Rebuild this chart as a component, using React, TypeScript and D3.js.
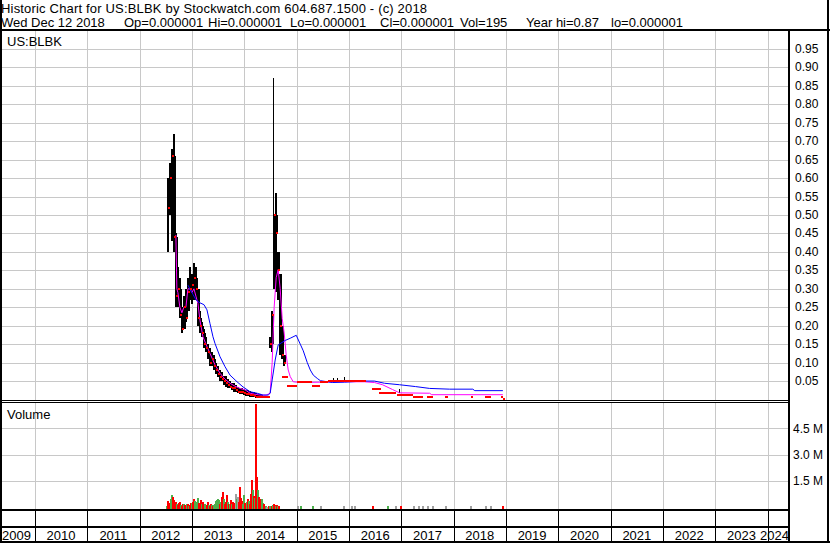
import React from 'react';
import * as d3 from 'd3';

// ---------- DATA ----------
// All time positions are counted in weeks from Monday 2 July 2012.
const WEEK0 = new Date(2012, 6, 2);
const WEEK_MS = 7 * 86400000;

// Two-weekly price bars (high / low / close), first bar in week 1
const barFirstWeek = 1;
const barStepWeeks = 2;
const barHigh = [
  0.60, 0.64, 0.68, 0.72, 0.45, 0.36, 0.33, 0.25, 0.28, 0.30,
  0.33, 0.36, 0.34, 0.37, 0.36, 0.30, 0.24, 0.21, 0.19, 0.17,
  0.15, 0.14, 0.13, 0.12, 0.10, 0.09, 0.08, 0.075, 0.065, 0.065,
  0.055, 0.05, 0.045, 0.045, 0.04, 0.035, 0.032, 0.03, 0.028, 0.025,
  0.025, 0.022, 0.02, 0.02, 0.018, 0.015, 0.014, 0.012, 0.01, 0.01,
  0.01, 0.17, 0.24, 0.87, 0.56, 0.40, 0.34, 0.20, 0.12,
];
const barLow = [
  0.40, 0.50, 0.43, 0.40, 0.25, 0.25, 0.22, 0.18, 0.19, 0.21,
  0.24, 0.27, 0.26, 0.27, 0.27, 0.20, 0.18, 0.17, 0.14, 0.13,
  0.11, 0.09, 0.09, 0.08, 0.07, 0.06, 0.05, 0.05, 0.04, 0.035,
  0.03, 0.03, 0.025, 0.02, 0.02, 0.018, 0.015, 0.015, 0.012, 0.01,
  0.01, 0.008, 0.008, 0.006, 0.005, 0.005, 0.005, 0.005, 0.005, 0.005,
  0.005, 0.14, 0.13, 0.30, 0.29, 0.27, 0.12, 0.11, 0.09,
];
const barClose = [
  0.52, 0.60, 0.66, 0.44, 0.28, 0.30, 0.23, 0.19, 0.25, 0.22,
  0.29, 0.30, 0.31, 0.33, 0.30, 0.22, 0.20, 0.18, 0.15, 0.14,
  0.13, 0.10, 0.11, 0.09, 0.08, 0.07, 0.06, 0.055, 0.05, 0.045,
  0.04, 0.035, 0.03, 0.03, 0.025, 0.02, 0.02, 0.02, 0.018, 0.015,
  0.015, 0.012, 0.012, 0.01, 0.008, 0.008, 0.008, 0.008, 0.008, 0.008,
  0.008, 0.15, 0.23, 0.50, 0.45, 0.35, 0.20, 0.12, 0.10,
];

// Quiet stretches: close unchanged between two weeks
const flatStartWeek = [116, 121, 131, 146, 154, 162, 206, 213, 230, 246, 260, 278, 304, 318, 334, 336];
const flatEndWeek = [122, 131, 146, 154, 162, 200, 215, 230, 246, 256, 266, 281, 306, 324, 336, 338];
const flatClose = [0.060, 0.037, 0.047, 0.037, 0.047, 0.050, 0.028, 0.017, 0.012, 0.008, 0.008, 0.008, 0.008, 0.008, 0.008, 0.001];

// Occasional trading bars in the quiet period
const quietWeek = [167, 171, 178, 232];
const quietHigh = [0.058, 0.058, 0.062, 0.028];
const quietLow = [0.048, 0.050, 0.050, 0.017];

// Short moving average (magenta)
const maShortWeek = [10, 11, 12, 14, 16, 18, 20, 22, 24, 26, 28, 30, 32, 34, 37, 40, 44, 49, 54, 59, 64, 69, 74, 79, 84, 89, 94, 100, 104, 106, 108, 110, 112, 114, 116, 118, 120, 122, 124, 127, 134, 154, 174, 198, 208, 216, 226, 233, 263, 265, 336];
const maShortValue = [0.446, 0.30, 0.29, 0.25, 0.235, 0.25, 0.25, 0.30, 0.30, 0.29, 0.30, 0.28, 0.26, 0.215, 0.17, 0.15, 0.125, 0.094, 0.071, 0.055, 0.044, 0.036, 0.030, 0.026, 0.017, 0.014, 0.012, 0.012, 0.017, 0.10, 0.25, 0.33, 0.352, 0.30, 0.22, 0.18, 0.12, 0.08, 0.062, 0.048, 0.046, 0.047, 0.048, 0.048, 0.046, 0.040, 0.027, 0.018, 0.017, 0.013, 0.013];

// Long moving average (blue)
const maLongWeek = [22, 24, 27, 30, 34, 38, 41, 44, 47, 49, 54, 59, 64, 71, 77, 84, 91, 97, 102, 104, 106, 109, 112, 119, 124, 130, 134, 137, 141, 144, 147, 151, 154, 166, 178, 198, 208, 218, 233, 249, 263, 283, 306, 308, 336];
const maLongValue = [0.31, 0.30, 0.285, 0.27, 0.262, 0.257, 0.243, 0.206, 0.17, 0.152, 0.116, 0.089, 0.066, 0.048, 0.034, 0.021, 0.017, 0.012, 0.012, 0.017, 0.053, 0.107, 0.148, 0.160, 0.166, 0.174, 0.150, 0.132, 0.100, 0.080, 0.066, 0.057, 0.051, 0.046, 0.047, 0.050, 0.050, 0.044, 0.040, 0.035, 0.030, 0.028, 0.028, 0.024, 0.024];

// Weekly volume (millions) from week 0; u = up, d = down, n = unchanged
const volume = [
  0.05, 0.36, 0.12, 0.25, 0.45, 0.69, 0.57, 0.40, 0.15, 0.27,
  0.18, 0.10, 0.22, 0.28, 0.12, 0.08, 0.15, 0.20, 0.10, 0.12,
  0.18, 0.20, 0.08, 0.12, 0.25, 0.22, 0.30, 0.48, 0.35, 0.20,
  0.30, 0.50, 0.25, 0.15, 0.40, 0.20, 0.28, 0.10, 0.15, 0.08,
  0.12, 0.28, 0.10, 0.05, 0.18, 0.12, 0.08, 0.10, 0.15, 0.35,
  0.42, 0.48, 0.40, 0.20, 0.30, 0.55, 0.88, 0.45, 0.20, 0.30,
  0.67, 0.30, 0.20, 0.15, 0.40, 0.18, 0.30, 0.15, 0.25, 0.72,
  0.45, 0.55, 0.30, 1.16, 0.50, 0.35, 0.20, 0.66, 0.25, 0.15,
  0.30, 0.45, 0.35, 0.20, 0.75, 1.55, 0.95, 0.65, 0.50, 5.90,
  1.73, 1.00, 0.60, 0.45, 0.30, 0.45, 0.25, 0.15, 0.05, 0.03,
  0.02, 0.02, 0.03, 0.05, 0.08, 0.06, 0.10, 0.20, 0.12, 0.06,
  0.12, 0.05, 0.03,
];
const volumeDir =
  'uddduudddd' +
  'uddduddudd' +
  'ududdudduu' +
  'uudddudduu' +
  'ddudduduuu' +
  'uuududdudd' +
  'dudududddn' +
  'undddduudd' +
  'ududddudud' +
  'duddduuddu' +
  'nnduududdu' +
  'dud';

// Sparse volume after the spike
const volTailWeek = [131, 134, 146, 154, 177, 185, 188, 206, 220, 228, 233, 246, 251, 255, 260, 265, 278, 303, 318, 323, 335];
const volTailValue = [0.06, 0.04, 0.05, 0.05, 0.06, 0.05, 0.04, 0.05, 0.06, 0.05, 0.06, 0.05, 0.04, 0.05, 0.04, 0.05, 0.05, 0.04, 0.05, 0.05, 0.06];
const volTailDir = 'nuunnnndundnnnnnnnnnd';

const priceTicks = [0.05, 0.10, 0.15, 0.20, 0.25, 0.30, 0.35, 0.40, 0.45, 0.50, 0.55, 0.60, 0.65, 0.70, 0.75, 0.80, 0.85, 0.90, 0.95];
const volumeTicks = [1.5, 3.0, 4.5];
const yearLabels = [2009, 2010, 2011, 2012, 2013, 2014, 2015, 2016, 2017, 2018, 2019, 2020, 2021, 2022, 2023, 2024];

const headerLine1 = 'Historic Chart for US:BLBK by Stockwatch.com 604.687.1500 - (c) 2018';
const headerItems = ['Wed Dec 12 2018', 'Op=0.000001', 'Hi=0.000001', 'Lo=0.000001', 'Cl=0.000001', 'Vol=195', 'Year hi=0.87', 'lo=0.000001'];
const symbol = 'US:BLBK';

// ---------- CHART ----------
const FONT = 'Liberation Sans, Arial, Helvetica, sans-serif';
const DIR_COLOR: Record<string, string> = { u: '#4db04d', d: '#ff0000', n: '#a0a0a0' };

export default function App() {
  const W = 830;
  const H = 543;
  const plotL = 2;
  const plotR = 789;
  const priceTop = 31;
  const priceBottom = 400;
  const volTop = 403;
  const volBottom = 508.5;

  const xs = d3.scaleTime()
    .domain([new Date(2010, 0, 1), new Date(2024, 0, 1)])
    .range([35, 767.7]);
  const yP = d3.scaleLinear().domain([0, 1]).range([399.5, 30.5]);
  const yV = d3.scaleLinear().domain([0, 6]).range([507, 402.2]);
  const wk = (w: number) => new Date(WEEK0.getTime() + w * WEEK_MS);
  const xw = (w: number) => xs(wk(w));

  const gridYears = d3.range(2010, 2025);
  const headerX = [1, 124, 208, 290, 380, 460, 526, 611];

  const bars = barHigh.map((h, i) => {
    const w = barFirstWeek + i * barStepWeeks;
    const open = i === 0 ? barClose[0] : barClose[i - 1];
    const lo = barLow[i];
    const c = barClose[i];
    const bTop = Math.min(h, Math.max(open, c));
    const bBot = Math.max(lo, Math.min(open, c));
    return { x: xw(w), h, l: lo, c, bTop, bBot };
  });

  const lineShort = d3.line<number>()
    .x((_, i) => xw(maShortWeek[i]))
    .y((v) => yP(v));
  const lineLong = d3.line<number>()
    .x((_, i) => xw(maLongWeek[i]))
    .y((v) => yP(v));

  const fmtP = d3.format('.2f');
  const fmtV = d3.format('.1f');

  return (
    <svg
      width={W}
      height={H}
      viewBox={`0 0 ${W} ${H}`}
      style={{ position: 'absolute', left: 0, top: 0, background: '#fff' }}
      fontFamily={FONT}
    >
      <rect x={0} y={0} width={W} height={H} fill="#fff" />

      {/* header */}
      <text x={1} y={13} fontSize={13} fill="#000" style={{ letterSpacing: '0.18px' }}>{headerLine1}</text>
      {headerItems.map((t, i) => (
        <text key={t} x={headerX[i]} y={26.5} fontSize={13} fill="#000">{t}</text>
      ))}

      {/* gridlines */}
      <g stroke="#c8c8c8" strokeWidth={1} shapeRendering="crispEdges">
        {priceTicks.map((t) => (
          <line key={'pg' + t} x1={plotL} x2={plotR} y1={Math.round(yP(t)) + 0.5} y2={Math.round(yP(t)) + 0.5} />
        ))}
        {volumeTicks.map((t) => (
          <line key={'vg' + t} x1={plotL} x2={plotR} y1={Math.round(yV(t)) + 0.5} y2={Math.round(yV(t)) + 0.5} />
        ))}
        {gridYears.map((y) => {
          const x = Math.round(xs(new Date(y, 0, 1))) + 0.5;
          return (
            <g key={'vy' + y}>
              <line x1={x} x2={x} y1={priceTop} y2={priceBottom} />
              <line x1={x} x2={x} y1={volTop} y2={volBottom} />
            </g>
          );
        })}
      </g>

      {/* labels inside panels */}
      <text x={7} y={46} fontSize={13} fill="#000">{symbol}</text>
      <text x={7} y={418.5} fontSize={13} fill="#000">Volume</text>

      {/* price bars */}
      <g shapeRendering="crispEdges" fill="#000">
        {bars.map((b, i) => {
          const thin = b.h - b.bTop > 0.15;
          return (
            <g key={'b' + i}>
              <rect x={Math.round(b.x)} y={yP(b.h)} width={thin ? 1 : 2} height={Math.max(1, yP(b.l) - yP(b.h))} />
              <rect x={Math.round(b.x)} y={yP(b.bTop)} width={3} height={Math.max(1, yP(b.bBot) - yP(b.bTop))} />
            </g>
          );
        })}
        {quietWeek.map((w, i) => (
          <rect key={'q' + i} x={Math.round(xw(w))} y={yP(quietHigh[i])} width={1} height={yP(quietLow[i]) - yP(quietHigh[i])} />
        ))}
      </g>

      {/* moving averages */}
      <path d={lineShort(maShortValue) || ''} fill="none" stroke="#ff00ff" strokeWidth={1} />
      <path d={lineLong(maLongValue) || ''} fill="none" stroke="#0000ff" strokeWidth={1} />

      {/* close marks */}
      <g fill="#ff0000" shapeRendering="crispEdges">
        {bars.map((b, i) => (
          <rect key={'c' + i} x={Math.round(b.x) + 1} y={Math.round(yP(b.c)) - 1} width={2} height={2} />
        ))}
        {flatStartWeek.map((w, i) => (
          <rect key={'f' + i} x={Math.round(xw(w))} y={Math.round(yP(flatClose[i])) - 1} width={Math.max(2, Math.round(xw(flatEndWeek[i]) - xw(w)))} height={2} />
        ))}
      </g>

      {/* volume */}
      <g shapeRendering="crispEdges">
        {volume.map((v, i) => (
          <rect key={'v' + i} x={Math.round(xw(i))} y={yV(v)} width={2} height={volBottom - yV(v)} fill={DIR_COLOR[volumeDir[i]] || '#ff0000'} />
        ))}
        {volTailWeek.map((w, i) => (
          <rect key={'vt' + i} x={Math.round(xw(w))} y={yV(volTailValue[i])} width={2} height={volBottom - yV(volTailValue[i])} fill={DIR_COLOR[volTailDir[i]] || '#a0a0a0'} />
        ))}
      </g>

      {/* frame lines */}
      <g stroke="#000" shapeRendering="crispEdges" fill="none">
        <line x1={0} x2={W} y1={30} y2={30} strokeWidth={2} />
        <line x1={0} x2={plotR} y1={400.5} y2={400.5} strokeWidth={1} />
        <line x1={0} x2={plotR} y1={402.5} y2={402.5} strokeWidth={1} />
        <line x1={0} x2={plotR} y1={509.5} y2={509.5} strokeWidth={2} />
        <line x1={0} x2={plotR} y1={527} y2={527} strokeWidth={2} />
        <line x1={0} x2={W} y1={542} y2={542} strokeWidth={2} />
        <line x1={1} x2={1} y1={0} y2={H} strokeWidth={2} />
        <line x1={plotR} x2={plotR} y1={30} y2={H} strokeWidth={2} />
        <line x1={828} x2={828} y1={0} y2={H} strokeWidth={2} />
        {gridYears.map((y) => {
          const x = Math.round(xs(new Date(y, 0, 1))) + 0.5;
          return <line key={'yd' + y} x1={x} x2={x} y1={510} y2={541} strokeWidth={1} />;
        })}
      </g>

      {/* right axis */}
      {priceTicks.map((t) => (
        <text key={'pl' + t} x={795} y={yP(t) + 4} fontSize={12} fill="#000">{fmtP(t)}</text>
      ))}
      {volumeTicks.map((t) => (
        <text key={'vl' + t} x={793} y={yV(t) + 4.5} fontSize={12} fill="#000">{fmtV(t) + ' M'}</text>
      ))}

      {/* year labels */}
      {yearLabels.map((y, i) => {
        const first = i === 0;
        const last = i === yearLabels.length - 1;
        const x = first ? 2 : last ? plotR : xs(new Date(y, 6, 2));
        return (
          <text key={'yl' + y} x={x} y={539.5} fontSize={13} fill="#000" textAnchor={first ? 'start' : last ? 'end' : 'middle'}>
            {y}
          </text>
        );
      })}
    </svg>
  );
}
